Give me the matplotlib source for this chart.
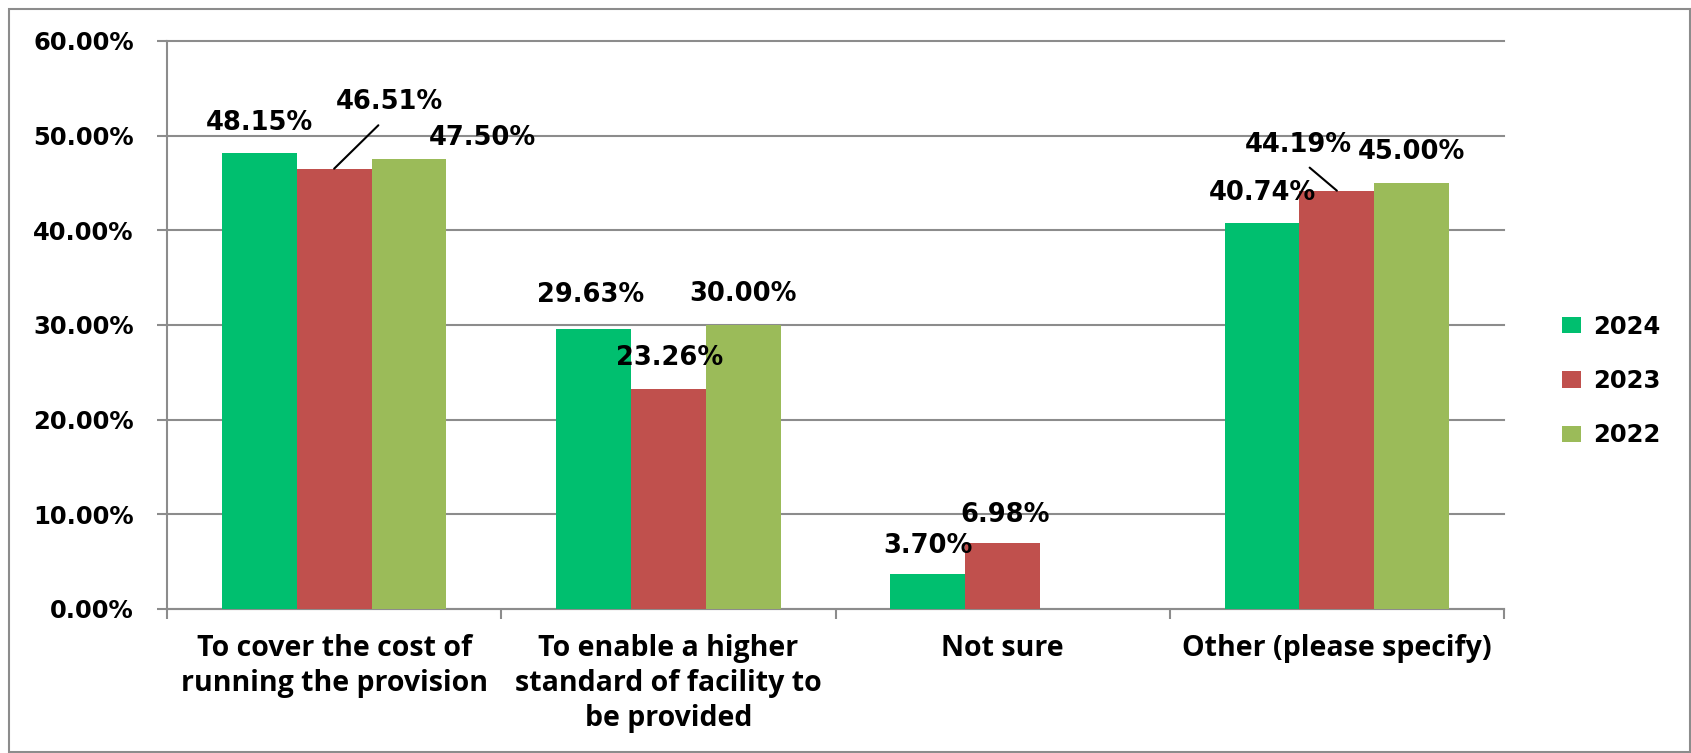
import matplotlib
matplotlib.use("Agg")
import matplotlib.pyplot as plt
from matplotlib.patches import Rectangle
from matplotlib.ticker import FuncFormatter, FixedLocator
import numpy as np

categories = ["To cover the cost of\nrunning the provision",
              "To enable a higher\nstandard of facility to\nbe provided",
              "Not sure",
              "Other (please specify)"]
series_names = ["2024", "2023", "2022"]
values_2024 = [48.15, 29.63, 3.70, 40.74]
values_2023 = [46.51, 23.26, 6.98, 44.19]
values_2022 = [47.50, 30.00, None, 45.00]
colors = ["#00BF6F", "#C0504D", "#9BBB59"]
yticks = [0, 10, 20, 30, 40, 50, 60]

# label offsets in pixels (dx, dy) relative to bar top centre
offsets = {
    0: [(0, 30), (-3, 34), (0, 28), (0, 30)],
    1: [(55, 67), (1, 31), (2, 28), (-39, 46)],
    2: [(73, 21), (0, 31), None, (0, 31)],
}
leaders = {(1, 0), (1, 3)}

W, H = 1691, 753
fig = plt.figure(figsize=(W / 100, H / 100), dpi=100)
ax = fig.add_axes([167 / W, 1 - 609 / H, (1504 - 167) / W, (609 - 41) / H])

grey = "#8C8C8C"
num_font = dict(family="DejaVu Sans", weight="bold", size=18.5)

x = np.arange(len(categories))
bw = 0.224
all_vals = [values_2024, values_2023, values_2022]
for si, vals in enumerate(all_vals):
    xs = [x[i] + (si - 1) * bw for i in range(len(vals)) if vals[i] is not None]
    vs = [v for v in vals if v is not None]
    ax.bar(xs, vs, width=bw, color=colors[si], label=series_names[si], zorder=3)
    for i, v in enumerate(vals):
        if v is None:
            continue
        dx, dy = offsets[si][i]
        xc = x[i] + (si - 1) * bw
        if (si, i) in leaders:
            ax.annotate(f"{v:.2f}%", xy=(xc, v), xytext=(dx, dy),
                        textcoords="offset pixels", ha="center", va="center",
                        color="black", zorder=5, **num_font,
                        arrowprops=dict(arrowstyle="-", color="black", lw=1.5,
                                        shrinkA=8, shrinkB=0, relpos=(0.5, 0)))
        else:
            ax.annotate(f"{v:.2f}%", xy=(xc, v), xytext=(dx, dy),
                        textcoords="offset pixels", ha="center", va="center",
                        color="black", zorder=5, **num_font)

ax.set_xlim(-0.5, len(categories) - 0.5)
ax.set_ylim(0, 60)
ax.yaxis.set_major_locator(FixedLocator(yticks))
ax.yaxis.set_major_formatter(FuncFormatter(lambda v, p: f"{v:.2f}%"))
ax.grid(axis="y", color=grey, lw=1.5, zorder=0)
for gl in ax.get_ygridlines():
    gl.set_clip_on(False)

# x ticks at category boundaries, labels at category centres
ax.xaxis.set_major_locator(FixedLocator(np.arange(-0.5, len(categories), 1.0)))
ax.xaxis.set_major_formatter(FuncFormatter(lambda v, p: ""))
ax.xaxis.set_minor_locator(FixedLocator(x))
ax.set_xticklabels(categories, minor=True)
ax.tick_params(axis="x", which="major", length=7, width=1.5, color=grey, direction="out")
ax.tick_params(axis="x", which="minor", length=0, pad=18)
ax.tick_params(axis="y", length=7, width=1.5, color=grey, direction="out", pad=17)
for lab in ax.get_xticklabels(minor=True):
    lab.set_family("Open Sans")
    lab.set_weight("bold")
    lab.set_fontsize(20.5)
    lab.set_linespacing(1.28)
    lab.set_multialignment("center")
for lab in ax.get_yticklabels():
    lab.set_family("DejaVu Sans")
    lab.set_weight("bold")
    lab.set_fontsize(17.5)

for s in ["top", "right"]:
    ax.spines[s].set_visible(False)
for s in ["left", "bottom"]:
    ax.spines[s].set_color(grey)
    ax.spines[s].set_linewidth(1.5)

leg = ax.legend(loc="center left", bbox_to_anchor=(1540 / W, 1 - 381 / H),
                bbox_transform=fig.transFigure, frameon=False,
                prop=dict(family="DejaVu Sans", weight="bold", size=17.5),
                handlelength=0.8, handleheight=0.65, handletextpad=0.5,
                labelspacing=1.25)

fig.patches.append(Rectangle((9 / W, 1 / H), (W - 10) / W, (752 - 9) / H,
                             transform=fig.transFigure, fill=False,
                             edgecolor=grey, lw=1.5))

fig.savefig("out.png", dpi=100)
